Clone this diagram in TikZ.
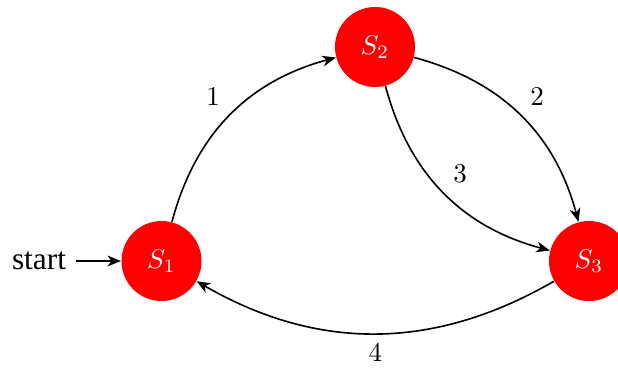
\documentclass[tikz,border=0pt]{standalone}
\usepackage{fontspec}
\newfontfamily\startfont{Liberation Serif}
\usetikzlibrary{arrows.meta}
\begin{document}
\begin{tikzpicture}[x=0.37pt,y=0.37pt,
  state/.style={circle,fill=red,draw=none,text=white,minimum size=80*0.37pt,inner sep=0pt},
  conn/.style={-{Stealth[length=5pt,width=4pt,inset=1.5pt]},semithick},
  lbl/.style={font=\normalsize}]
\useasboundingbox (0,0) rectangle (618,369);
\node[state] (S1) at (161.5,108) {$S_1$};
\node[state] (S2) at (375,322) {$S_2$};
\node[state] (S3) at (589,108) {$S_3$};
\node[font={\startfont\fontsize{11.6}{14}\selectfont}] (start) at (39,108) {start};
\draw[conn] (start) -- (S1);
\draw[conn] (S1) to[bend left=30] node[midway,above left,lbl] {1} (S2);
\draw[conn] (S2) to[bend left=30] node[midway,above right,lbl] {2} (S3);
\draw[conn] (S2) to[bend right=30] node[midway,above right,lbl] {3} (S3);
\draw[conn] (S3) to[bend left=30] node[midway,below,lbl] {4} (S1);
\end{tikzpicture}
\end{document}
